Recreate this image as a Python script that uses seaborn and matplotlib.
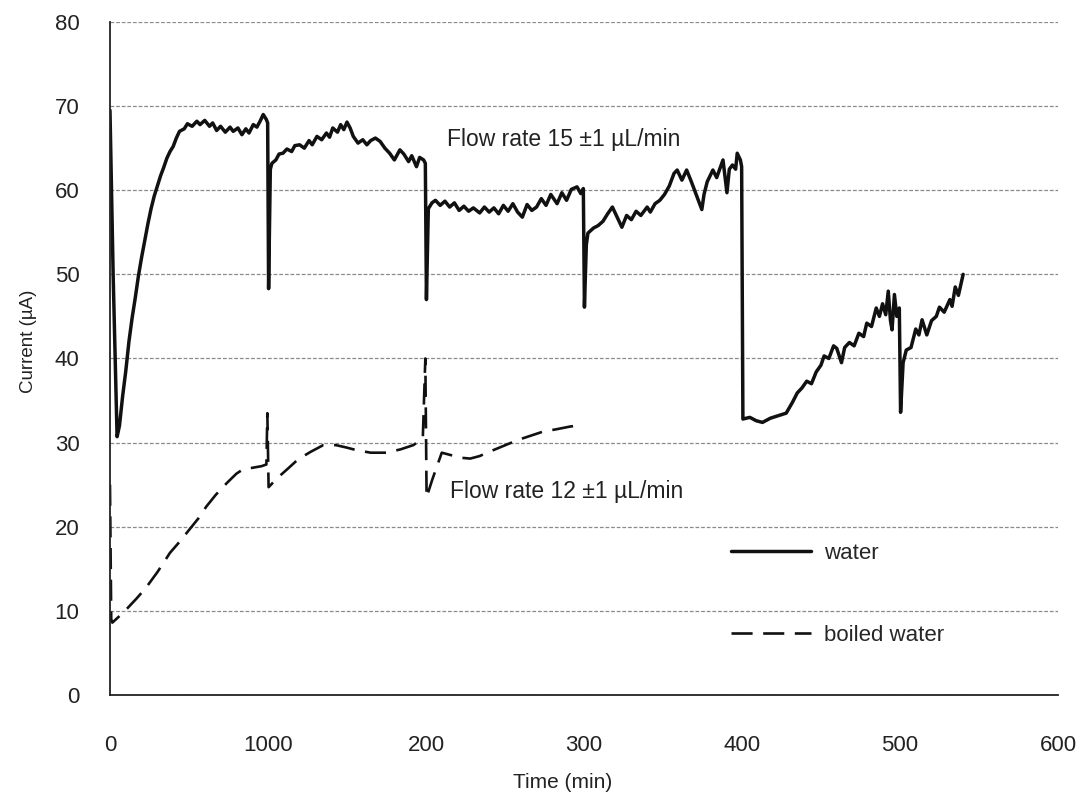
import matplotlib
matplotlib.use("Agg")
import matplotlib.pyplot as plt
import pandas as pd
import seaborn as sns

# water run, flow rate 15 +-1 uL/min
water_time = [0, 2, 4.5, 6, 8, 10, 12, 14, 16, 18, 20, 22, 24, 26, 28, 30, 32, 34, 36, 38,
              40, 42, 44, 47, 49, 52, 55, 57, 60, 63, 65, 67.5, 70, 73, 76, 78, 81, 83.5, 86,
              88, 90.7, 93, 95, 97, 99, 99.8,
              100.4, 101.5, 102.5, 105, 107, 109.5, 112, 115, 117, 120, 123, 126, 128, 131,
              134, 137, 139, 141, 144, 146, 148, 150, 152, 154, 157, 160, 162.6, 165, 168,
              171, 174, 177, 180, 183.5, 186, 189, 191, 194, 196, 198.5, 199.6,
              200.3, 201.5, 203.8, 206, 209, 212, 215, 218, 221, 224, 227, 230, 234, 237,
              240, 243, 246, 249, 252, 255, 258, 261, 264, 267, 270, 273, 276, 279, 283,
              286, 289, 292, 295.6, 298, 299.6,
              300.3, 301.5, 302.5, 306, 309, 312, 315, 318, 321, 324, 327, 330, 333, 336,
              340, 342, 345, 348, 351, 354, 357, 359, 362, 365, 368, 371, 374.6, 376, 378,
              381.6, 384, 388, 390.5, 392, 394, 396, 397, 399, 399.8,
              400.6, 405, 409, 413, 418, 423, 428, 432, 435, 438, 441, 444, 447, 450, 452,
              455, 458, 460, 463, 465, 468, 471, 474, 477, 479, 482, 485, 487, 489, 491,
              492.6, 494, 495, 496.5, 498, 499.6,
              500.4, 502, 504, 507, 510, 512, 514, 517, 520, 523, 525, 528, 531.6, 533, 535,
              537, 540]
water_current = [69.5, 50, 30.7, 32, 35.5, 38.5, 42, 44.8, 47.2, 49.8, 52, 54, 56, 57.8, 59.3,
                 60.5, 61.7, 62.7, 63.8, 64.6, 65.2, 66.2, 67.0, 67.3, 67.9, 67.6, 68.2, 67.8,
                 68.3, 67.6, 68.0, 67.1, 67.6, 66.9, 67.5, 67.0, 67.4, 66.6, 67.3, 66.8, 67.8,
                 67.5, 68.2, 69.0, 68.4, 68.0,
                 48.3, 62.5, 63.2, 63.6, 64.3, 64.4, 64.9, 64.6, 65.3, 65.4, 65.0, 65.9, 65.4,
                 66.4, 66.0, 66.8, 66.3, 67.4, 66.9, 67.8, 67.2, 68.1, 67.4, 66.4, 65.6, 66.0,
                 65.4, 65.9, 66.2, 65.8, 65.0, 64.4, 63.6, 64.8, 64.3, 63.4, 64.1, 62.8, 63.9,
                 63.6, 63.2,
                 47.0, 57.8, 58.5, 58.8, 58.2, 58.7, 58.0, 58.5, 57.6, 58.1, 57.5, 57.9, 57.3,
                 58.0, 57.4, 57.9, 57.2, 58.2, 57.5, 58.4, 57.4, 56.8, 58.3, 57.6, 58.0, 59.0,
                 58.2, 59.5, 58.4, 59.7, 58.8, 60.1, 60.4, 59.6, 60.2,
                 46.1, 53.5, 54.9, 55.5, 55.8, 56.3, 57.2, 58.0, 56.8, 55.6, 57.0, 56.5, 57.5,
                 57.0, 58.0, 57.4, 58.4, 58.8, 59.5, 60.5, 62.0, 62.4, 61.2, 62.4, 61.0, 59.5,
                 57.7, 59.5, 61.0, 62.4, 61.5, 63.6, 59.7, 62.5, 63.0, 62.5, 64.4, 63.6, 62.8,
                 32.8, 33.0, 32.6, 32.4, 32.9, 33.2, 33.5, 34.8, 35.9, 36.5, 37.3, 37.0, 38.4,
                 39.2, 40.3, 40.0, 41.5, 41.2, 39.5, 41.3, 41.9, 41.5, 43.0, 42.6, 44.2, 43.8,
                 46.0, 45.0, 46.5, 45.2, 48.0, 44.5, 43.4, 47.6, 45.0, 46.0,
                 33.6, 39.5, 41.0, 41.3, 43.5, 42.8, 44.6, 42.8, 44.5, 45.0, 46.1, 45.5, 47.0,
                 46.2, 48.5, 47.5, 50.0]

# boiled water run, flow rate 12 +-1 uL/min
boiled_time = [0, 0.8, 1.5, 5, 11, 17, 23, 30, 38, 44, 50, 56, 61, 67, 74, 80, 84, 90, 96,
               99, 99.6, 100.4, 106, 112, 119, 127, 135, 143, 150, 156, 165, 175, 184, 192,
               198, 199.6, 200.4, 204, 210, 216, 222, 228, 234, 240, 249, 258, 266, 274, 283,
               291, 299]
boiled_current = [25, 9, 8.6, 9.2, 10.3, 11.5, 12.8, 14.6, 16.9, 18.2, 19.6, 21.0, 22.4, 23.8,
                  25.2, 26.3, 26.8, 27.0, 27.2, 27.4, 33.5, 24.7, 25.8, 26.8, 28.0, 28.9, 29.7,
                  29.7, 29.4, 29.1, 28.8, 28.8, 29.2, 29.7, 30.5, 40.0, 23.5, 25.6, 28.8, 28.5,
                  28.2, 28.1, 28.4, 28.9, 29.6, 30.3, 30.8, 31.3, 31.6, 31.9, 32.1]

x_ticks = [0, 100, 200, 300, 400, 500, 600]
x_tick_labels = ["0", "1000", "200", "300", "400", "500", "600"]
y_ticks = [0, 10, 20, 30, 40, 50, 60, 70, 80]

water_df = pd.DataFrame({"Time": water_time, "Current": water_current})
boiled_df = pd.DataFrame({"Time": boiled_time, "Current": boiled_current})

sns.set_style("white")
plt.rcParams["font.family"] = ["Liberation Sans", "DejaVu Sans"]

fig = plt.figure(figsize=(10.91, 8.08), dpi=100)
ax = fig.add_axes([0.1008, 0.1399, 0.8689, 0.8329])

ink = "#111111"
sns.lineplot(data=water_df, x="Time", y="Current", ax=ax, sort=False, estimator=None,
             color=ink, linewidth=2.5, label="water")
sns.lineplot(data=boiled_df, x="Time", y="Current", ax=ax, sort=False, estimator=None,
             color=ink, linewidth=1.9, label="boiled water")
ax.lines[1].set_dashes((8, 4))

ax.set_xlim(0, 600)
ax.set_ylim(0, 80)
ax.set_xticks(x_ticks)
ax.set_xticklabels(x_tick_labels)
ax.set_yticks(y_ticks)

# dashed horizontal grid only
ax.yaxis.grid(True, linestyle=(0, (3, 1.5)), color="#8a8a8a", linewidth=0.9)
ax.xaxis.grid(False)
ax.set_axisbelow(True)

for side in ["top", "right"]:
    ax.spines[side].set_visible(False)
for side in ["left", "bottom"]:
    ax.spines[side].set_color("#222222")
    ax.spines[side].set_linewidth(1.3)

ax.tick_params(axis="y", direction="out", length=13, width=1.0, pad=9,
               labelsize=16, colors="#222222")
ax.tick_params(axis="x", direction="out", length=12, width=1.0, pad=17,
               labelsize=16, colors="#222222")

ax.set_xlabel("Time (min)", fontsize=15, color="#222222")
ax.set_ylabel("Current (µA)", fontsize=13.5, color="#222222")
ax.xaxis.set_label_coords(0.477, -0.116)
ax.yaxis.set_label_coords(-0.077, 0.525)

ax.text(213, 66.0, "Flow rate 15 ±1 µL/min", fontsize=16.5, color="#222222", va="center")
ax.text(215, 24.2, "Flow rate 12 ±1 µL/min", fontsize=16.5, color="#222222", va="center")

ax.legend(loc="upper left", bbox_to_anchor=(0.643, 0.243), frameon=False, fontsize=16,
          handlelength=3.6, handletextpad=0.6, labelspacing=2.75, borderpad=0)

fig.savefig("out.png", dpi=100)
